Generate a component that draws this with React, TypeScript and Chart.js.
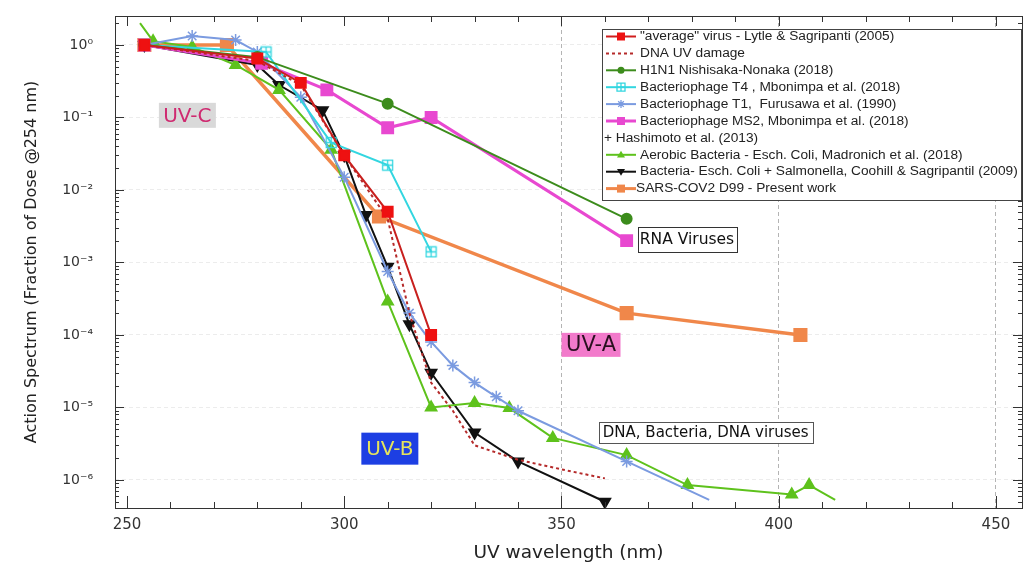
import React, { useEffect, useRef } from 'react';
import { Chart, registerables } from 'chart.js';

Chart.register(...registerables);

// ---------- data ----------
const avgVirusWl = [254, 280, 290, 300, 310, 320];
const avgVirusVal = [1, 0.65, 0.3, 0.03, 0.005, 1e-4];

const dnaDamageWl = [254, 280, 290, 300, 310, 315, 320, 325, 330, 340, 350, 360];
const dnaDamageVal = [1, 0.6, 0.28, 0.03, 0.004, 2e-4, 2.2e-5, 9e-6, 3e-6, 1.9e-6, 1.4e-6, 1.05e-6];

const h1n1Wl = [254, 280, 310, 365];
const h1n1Val = [1, 0.68, 0.155, 0.004];

const t4Wl = [254, 282, 297, 310, 320];
const t4Val = [1, 0.8, 0.045, 0.022, 0.0014];

const t1Wl = [254, 265, 275, 280, 290, 300, 310, 315, 320, 325, 330, 335, 340, 365, 384];
const t1Val = [1, 1.33, 1.17, 0.8, 0.19, 0.015, 7.5e-4, 2e-4, 8e-5, 3.8e-5, 2.2e-5, 1.4e-5, 9e-6, 1.8e-6, 5.3e-7];

const ms2Wl = [254, 281, 296, 310, 320, 365];
const ms2Val = [1, 0.56, 0.24, 0.072, 0.1, 0.002];

const ecoliMadronichWl = [253, 256, 265, 275, 285, 297, 310, 320, 330, 338, 348, 365, 379, 403, 407, 413];
const ecoliMadronichVal = [2.0, 1.13, 0.94, 0.53, 0.24, 0.036, 2.9e-4, 1e-5, 1.15e-5, 9.8e-6, 3.8e-6, 2.2e-6, 8.5e-7, 6.3e-7, 8.5e-7, 5.3e-7];

const coohillWl = [254, 280, 285, 295, 300, 305, 310, 315, 320, 330, 340, 360];
const coohillVal = [1, 0.53, 0.28, 0.126, 0.03, 0.0045, 8.7e-4, 1.4e-4, 3e-5, 4.5e-6, 1.8e-6, 5e-7];

const sarsWl = [254, 273, 308, 365, 405];
const sarsVal = [1, 1, 0.0043, 2e-4, 1e-4];

const seriesLabels = [
  '"average" virus - Lytle & Sagripanti (2005)',
  'DNA UV damage',
  'H1N1 Nishisaka-Nonaka (2018)',
  'Bacteriophage T4 , Mbonimpa et al. (2018)',
  'Bacteriophage T1,  Furusawa et al. (1990)',
  'Bacteriophage MS2, Mbonimpa et al. (2018)',
  'Aerobic Bacteria - Esch. Coli, Madronich et al. (2018)',
  'Bacteria- Esch. Coli + Salmonella, Coohill & Sagripantil (2009)',
  'SARS-COV2 D99 - Present work',
];
const legendExtraLabel = '+ Hashimoto et al. (2013)';
// order of legend rows: dataset index, -1 = extra text line
const legendOrder = [0, 1, 2, 3, 4, 5, -1, 6, 7, 8];

const xTickValues = [250, 300, 350, 400, 450];
const yTickValues = [1, 1e-1, 1e-2, 1e-3, 1e-4, 1e-5, 1e-6];
const yTickLabels = ['10⁰', '10⁻¹', '10⁻²', '10⁻³', '10⁻⁴', '10⁻⁵', '10⁻⁶'];
const xDashedGrid = [350, 400, 450];

const noteTexts = ['UV-C', 'UV-A', 'UV-B', 'RNA Viruses', 'DNA, Bacteria, DNA viruses'];
const noteWl = [263.9, 356.8, 310.5, 378.9, 383.2];
const noteVal = [0.107, 7.3e-5, 2.7e-6, 2.1e-3, 4.5e-6];

// ---------- styles ----------
const noteStyles = [
  { w: 57, h: 25, bg: '#d9d9d9', fg: '#cf2a70', border: null, font: '20px "DejaVu Sans"' },
  { w: 59, h: 24, bg: '#f27acb', fg: '#2a1020', border: null, font: '21px "DejaVu Sans"' },
  { w: 57, h: 32, bg: '#1d3fe3', fg: '#e6e45c', border: null, font: '20px "DejaVu Sans"' },
  { w: 99, h: 25, bg: '#ffffff', fg: '#111111', border: '#333333', font: '15.5px "DejaVu Sans"' },
  { w: 214, h: 21, bg: '#ffffff', fg: '#111111', border: '#555555', font: '15px "DejaVu Sans"' },
];

const mk = (wl: number[], v: number[]) => wl.map((x, i) => ({ x, y: v[i] }));

function makeBoxPlus(color: string) {
  const c = document.createElement('canvas');
  c.width = 13;
  c.height = 13;
  const g = c.getContext('2d')!;
  g.strokeStyle = color;
  g.lineWidth = 1.3;
  g.strokeRect(1.5, 1.5, 10, 10);
  g.beginPath();
  g.moveTo(6.5, 1.5);
  g.lineTo(6.5, 11.5);
  g.moveTo(1.5, 6.5);
  g.lineTo(11.5, 6.5);
  g.stroke();
  return c;
}

function drawMarker(ctx: CanvasRenderingContext2D, kind: string, x: number, y: number, r: number, color: string) {
  ctx.save();
  ctx.fillStyle = color;
  ctx.strokeStyle = color;
  ctx.lineWidth = 1.3;
  ctx.beginPath();
  if (kind === 'rect') {
    ctx.rect(x - r, y - r, 2 * r, 2 * r);
    ctx.fill();
  } else if (kind === 'circle') {
    ctx.arc(x, y, r, 0, Math.PI * 2);
    ctx.fill();
  } else if (kind === 'triangle') {
    ctx.moveTo(x, y - r);
    ctx.lineTo(x + r, y + r * 0.7);
    ctx.lineTo(x - r, y + r * 0.7);
    ctx.closePath();
    ctx.fill();
  } else if (kind === 'triangleDown') {
    ctx.moveTo(x, y + r);
    ctx.lineTo(x + r, y - r * 0.7);
    ctx.lineTo(x - r, y - r * 0.7);
    ctx.closePath();
    ctx.fill();
  } else if (kind === 'star') {
    ctx.moveTo(x - r, y); ctx.lineTo(x + r, y);
    ctx.moveTo(x, y - r); ctx.lineTo(x, y + r);
    ctx.moveTo(x - r * 0.7, y - r * 0.7); ctx.lineTo(x + r * 0.7, y + r * 0.7);
    ctx.moveTo(x - r * 0.7, y + r * 0.7); ctx.lineTo(x + r * 0.7, y - r * 0.7);
    ctx.stroke();
  } else if (kind === 'boxPlus') {
    ctx.rect(x - r, y - r, 2 * r, 2 * r);
    ctx.moveTo(x, y - r); ctx.lineTo(x, y + r);
    ctx.moveTo(x - r, y); ctx.lineTo(x + r, y);
    ctx.stroke();
  }
  ctx.restore();
}

const legendMarkers = ['rect', 'none', 'circle', 'boxPlus', 'star', 'rect', 'triangle', 'triangleDown', 'rect'];
const legendLineColors = ['#d01e1e', '#b52a2a', '#3c8c1c', '#33d6e0', '#7b9be0', '#e848d0', '#5ec21c', '#111111', '#f0874a'];
const legendMarkerColors = ['#ee1111', '#b52a2a', '#3c8c1c', '#33d6e0', '#7b9be0', '#e848d0', '#5ec21c', '#111111', '#f0874a'];

const overlayPlugin = {
  id: 'overlay',
  afterDatasetsDraw(chart: any) {
    const ctx: CanvasRenderingContext2D = chart.ctx;
    const xs = chart.scales.x;
    const ys = chart.scales.y;
    noteTexts.forEach((t, i) => {
      const st = noteStyles[i];
      const cx = xs.getPixelForValue(noteWl[i]);
      const cy = ys.getPixelForValue(noteVal[i]);
      ctx.save();
      ctx.fillStyle = st.bg;
      ctx.fillRect(cx - st.w / 2, cy - st.h / 2, st.w, st.h);
      if (st.border) {
        ctx.strokeStyle = st.border;
        ctx.lineWidth = 1;
        ctx.strokeRect(Math.round(cx - st.w / 2) + 0.5, Math.round(cy - st.h / 2) + 0.5, st.w, st.h);
      }
      ctx.fillStyle = st.fg;
      ctx.font = st.font;
      ctx.textAlign = 'center';
      ctx.textBaseline = 'middle';
      ctx.fillText(t, cx, cy + 1);
      ctx.restore();
    });
  },
  afterDraw(chart: any) {
    const ctx: CanvasRenderingContext2D = chart.ctx;
    const { left, right, top, bottom } = chart.chartArea;
    const xs = chart.scales.x;
    const ys = chart.scales.y;
    ctx.save();
    ctx.strokeStyle = '#333';
    ctx.lineWidth = 1;
    // x ticks (inward), every 10 nm
    ctx.beginPath();
    for (let v = 250; v <= 450; v += 10) {
      const px = Math.round(xs.getPixelForValue(v)) + 0.5;
      const major = v % 50 === 0;
      ctx.moveTo(px, bottom);
      ctx.lineTo(px, bottom - (major ? 12 : 6));
      ctx.moveTo(px, top);
      ctx.lineTo(px, top + (major ? 10 : 6));
    }
    // y ticks (log, inward)
    for (let e = -7; e <= 0; e++) {
      for (let k = 1; k <= 9; k++) {
        const v = k * Math.pow(10, e);
        if (v < ys.min || v > ys.max) continue;
        const py = Math.round(ys.getPixelForValue(v)) + 0.5;
        const len = k === 1 ? 9 : 4;
        ctx.moveTo(left, py);
        ctx.lineTo(left + len, py);
        ctx.moveTo(right, py);
        ctx.lineTo(right - len, py);
      }
    }
    ctx.stroke();
    ctx.strokeRect(Math.round(left) + 0.5, Math.round(top) + 0.5, Math.round(right - left), Math.round(bottom - top));
    ctx.restore();

    // legend
    const bx = 602, by = 29, bw = 419, bh = 171;
    ctx.save();
    ctx.fillStyle = '#ffffff';
    ctx.fillRect(bx, by, bw, bh);
    ctx.strokeStyle = '#444';
    ctx.lineWidth = 1;
    ctx.strokeRect(bx + 0.5, by + 0.5, bw, bh);
    ctx.font = '13.7px "Liberation Sans"';
    ctx.textBaseline = 'middle';
    ctx.fillStyle = '#222';
    legendOrder.forEach((di, row) => {
      const y = 36.5 + row * 16.9;
      if (di < 0) {
        ctx.fillStyle = '#222';
        ctx.fillText(legendExtraLabel, bx + 2, y);
        return;
      }
      ctx.save();
      ctx.strokeStyle = legendLineColors[di];
      ctx.lineWidth = di === 8 || di === 5 ? 3 : 2;
      if (di === 1) ctx.setLineDash([3, 3]);
      ctx.beginPath();
      ctx.moveTo(606, y);
      ctx.lineTo(636, y);
      ctx.stroke();
      ctx.restore();
      const m = legendMarkers[di];
      if (m !== 'none') drawMarker(ctx, m, 621, y, m === 'circle' ? 3.5 : 4, legendMarkerColors[di]);
      ctx.fillStyle = '#222';
      ctx.fillText(seriesLabels[di], di === 8 ? 636 : 640, y);
    });
    ctx.restore();
  },
};

export default function App() {
  const ref = useRef<HTMLCanvasElement | null>(null);

  useEffect(() => {
    if (!ref.current) return;
    const boxPlus = makeBoxPlus('#33d6e0');
    const t1Radius = t1Wl.map((_, i) => (i === t1Wl.length - 1 ? 0 : 6));
    const madRadius = ecoliMadronichWl.map((_, i) => (i === 0 || i === ecoliMadronichWl.length - 1 ? 0 : 6));

    const chart = new Chart(ref.current, {
      type: 'line',
      data: {
        datasets: [
          {
            label: seriesLabels[0], data: mk(avgVirusWl, avgVirusVal),
            borderColor: '#c8201e', backgroundColor: '#ee1111', pointBorderColor: '#ee1111',
            pointStyle: 'rect', pointRadius: 7, borderWidth: 2,
          },
          {
            label: seriesLabels[1], data: mk(dnaDamageWl, dnaDamageVal),
            borderColor: '#b52a2a', borderDash: [3, 3], pointRadius: 0, borderWidth: 2,
          },
          {
            label: seriesLabels[2], data: mk(h1n1Wl, h1n1Val),
            borderColor: '#3c8c1c', backgroundColor: '#3c8c1c', pointStyle: 'circle', pointRadius: 5, borderWidth: 2,
          },
          {
            label: seriesLabels[3], data: mk(t4Wl, t4Val),
            borderColor: '#33d6e0', backgroundColor: '#33d6e0', pointStyle: boxPlus as any, pointRadius: 6, borderWidth: 2,
          },
          {
            label: seriesLabels[4], data: mk(t1Wl, t1Val),
            borderColor: '#7b9be0', backgroundColor: '#7b9be0', pointStyle: 'star', pointRadius: t1Radius,
            pointBorderWidth: 1.5, borderWidth: 2,
          },
          {
            label: seriesLabels[5], data: mk(ms2Wl, ms2Val),
            borderColor: '#e848d0', backgroundColor: '#e848d0', pointStyle: 'rect', pointRadius: 7, borderWidth: 3,
          },
          {
            label: seriesLabels[6], data: mk(ecoliMadronichWl, ecoliMadronichVal),
            borderColor: '#5ec21c', backgroundColor: '#5ec21c', pointStyle: 'triangle', pointRadius: madRadius, borderWidth: 2,
          },
          {
            label: seriesLabels[7], data: mk(coohillWl, coohillVal),
            borderColor: '#111111', backgroundColor: '#111111', pointStyle: 'triangle', pointRotation: 180,
            pointRadius: 6, borderWidth: 2,
          },
          {
            label: seriesLabels[8], data: mk(sarsWl, sarsVal),
            borderColor: '#f0874a', backgroundColor: '#f0874a', pointStyle: 'rect', pointRadius: 7.5, borderWidth: 3.5,
          },
        ],
      },
      options: {
        responsive: false,
        animation: false,
        events: [],
        layout: { autoPadding: false, padding: { top: 16, right: 2, left: 0, bottom: 0 } },
        elements: { line: { tension: 0, fill: false }, point: { borderWidth: 1 } },
        plugins: { legend: { display: false }, tooltip: { enabled: false } },
        scales: {
          x: {
            type: 'linear',
            min: 247.24,
            max: 456,
            afterFit: (s: any) => { s.height = 59; s.paddingLeft = 0; s.paddingRight = 0; },
            afterBuildTicks: (s: any) => { s.ticks = xTickValues.map((v) => ({ value: v })); },
            ticks: {
              padding: 8,
              color: '#333',
              font: { family: 'DejaVu Sans', size: 15 },
              callback: (v: any) => String(v),
            },
            grid: {
              drawTicks: false,
              color: (c: any) => (c.tick && xDashedGrid.includes(c.tick.value) ? '#b4b4b4' : 'rgba(0,0,0,0)'),
            },
            border: { display: false, dash: [4, 3] },
            title: {
              display: true,
              text: 'UV wavelength (nm)',
              color: '#222',
              font: { family: 'DejaVu Sans', size: 18.5 },
              padding: { top: 0, bottom: 3 },
            },
          },
          y: {
            type: 'logarithmic',
            min: 4.1e-7,
            max: 2.51,
            afterFit: (s: any) => { s.width = 115; s.paddingTop = 0; s.paddingBottom = 0; },
            afterBuildTicks: (s: any) => { s.ticks = yTickValues.map((v) => ({ value: v })); },
            ticks: {
              padding: 22,
              color: '#333',
              font: { family: 'DejaVu Sans', size: 14 },
              callback: (v: any) => {
                const e = Math.round(Math.log10(Number(v)));
                const i = yTickValues.findIndex((t) => Math.round(Math.log10(t)) === e);
                return i >= 0 ? yTickLabels[i] : '';
              },
            },
            grid: { drawTicks: false, color: '#ececec' },
            border: { display: false, dash: [4, 3] },
            title: {
              display: true,
              text: 'Action Spectrum (Fraction of Dose @254 nm)',
              color: '#222',
              font: { family: 'DejaVu Sans', size: 16 },
              padding: { top: 22, bottom: 0 },
            },
          },
        },
      },
      plugins: [overlayPlugin],
    });
    return () => chart.destroy();
  }, []);

  return (
    <div style={{ position: 'absolute', left: 0, top: 0, width: 1024, height: 567, background: '#fff' }}>
      <canvas ref={ref} width={1024} height={567} style={{ display: 'block' }} />
    </div>
  );
}
